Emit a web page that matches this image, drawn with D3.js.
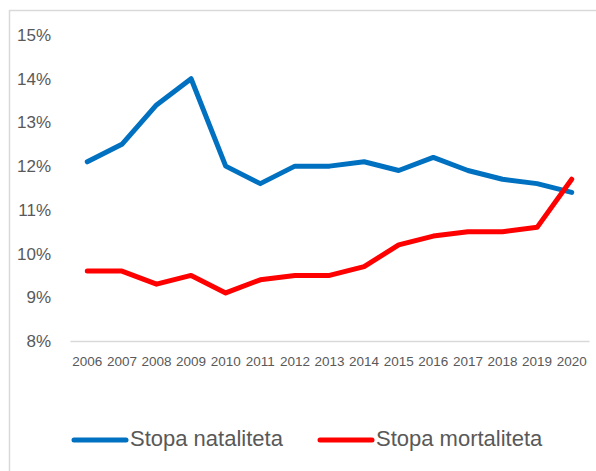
<!DOCTYPE html>
<html>
<head>
<meta charset="utf-8">
<script src="https://cdn.jsdelivr.net/npm/d3@7"></script>
<style>
    body { margin: 0; background: #fff; }
    svg { display: block; font-family: "Liberation Sans", Arial, sans-serif; }
</style>
</head>
<body>
<div id="chart"></div>
<script>
var years = [2006, 2007, 2008, 2009, 2010, 2011, 2012, 2013, 2014, 2015, 2016, 2017, 2018, 2019, 2020];
var natalitet = [12.1, 12.5, 13.4, 14.0, 12.0, 11.6, 12.0, 12.0, 12.1, 11.9, 12.2, 11.9, 11.7, 11.6, 11.4];
var mortalitet = [9.6, 9.6, 9.3, 9.5, 9.1, 9.4, 9.5, 9.5, 9.7, 10.2, 10.4, 10.5, 10.5, 10.6, 11.7];
var yTicks = [8, 9, 10, 11, 12, 13, 14, 15];
var seriesNames = ["Stopa nataliteta", "Stopa mortaliteta"];
var seriesColors = ["#0070c0", "#ff0000"];

var width = 596, height = 471;
var svg = d3.select("#chart").append("svg")
    .attr("width", width)
    .attr("height", height);

// chart frame, only top and left edges fall inside the picture
svg.append("path")
    .attr("d", "M9.5," + height + "V10.5H" + width)
    .attr("fill", "none")
    .attr("stroke", "#d9d9d9")
    .attr("stroke-width", 1.5);

var x = d3.scaleBand().domain(years).range([70, 589]);
var y = d3.scaleLinear().domain([8, 15]).range([341, 35]);

// y axis labels
var yAxis = svg.append("g")
    .attr("transform", "translate(51,0)")
    .call(d3.axisLeft(y).tickValues(yTicks).tickSize(0).tickPadding(0)
        .tickFormat(d => d + "%"));
yAxis.select(".domain").remove();
yAxis.selectAll("text")
    .attr("fill", "#595959")
    .style("font-size", "17px")
    .style("font-family", "Liberation Sans, Arial, sans-serif");

// x axis
var xAxis = svg.append("g")
    .attr("transform", "translate(0," + y(8) + ")")
    .call(d3.axisBottom(x).tickSize(0));
xAxis.select(".domain").attr("stroke", "#d9d9d9").attr("stroke-width", 1.5);
xAxis.selectAll("text")
    .attr("y", 25)
    .attr("dy", 0)
    .attr("fill", "#595959")
    .style("font-size", "13.5px")
    .style("font-family", "Liberation Sans, Arial, sans-serif");

var line = d3.line()
    .x((d, i) => x(years[i]) + x.bandwidth() / 2)
    .y(d => y(d));

[natalitet, mortalitet].forEach(function (values, i) {
    svg.append("path")
        .datum(values)
        .attr("d", line)
        .attr("fill", "none")
        .attr("stroke", seriesColors[i])
        .attr("stroke-width", 5)
        .attr("stroke-linecap", "round")
        .attr("stroke-linejoin", "round");
});

// legend
var legendX = [72, 318];
seriesNames.forEach(function (name, i) {
    var g = svg.append("g").attr("transform", "translate(" + legendX[i] + ",440)");
    g.append("line")
        .attr("x1", 2).attr("x2", 54)
        .attr("stroke", seriesColors[i])
        .attr("stroke-width", 5)
        .attr("stroke-linecap", "round");
    g.append("text")
        .attr("x", 58)
        .attr("y", 6)
        .attr("fill", "#595959")
        .style("font-size", "22px")
        .text(name);
});
</script>
</body>
</html>
